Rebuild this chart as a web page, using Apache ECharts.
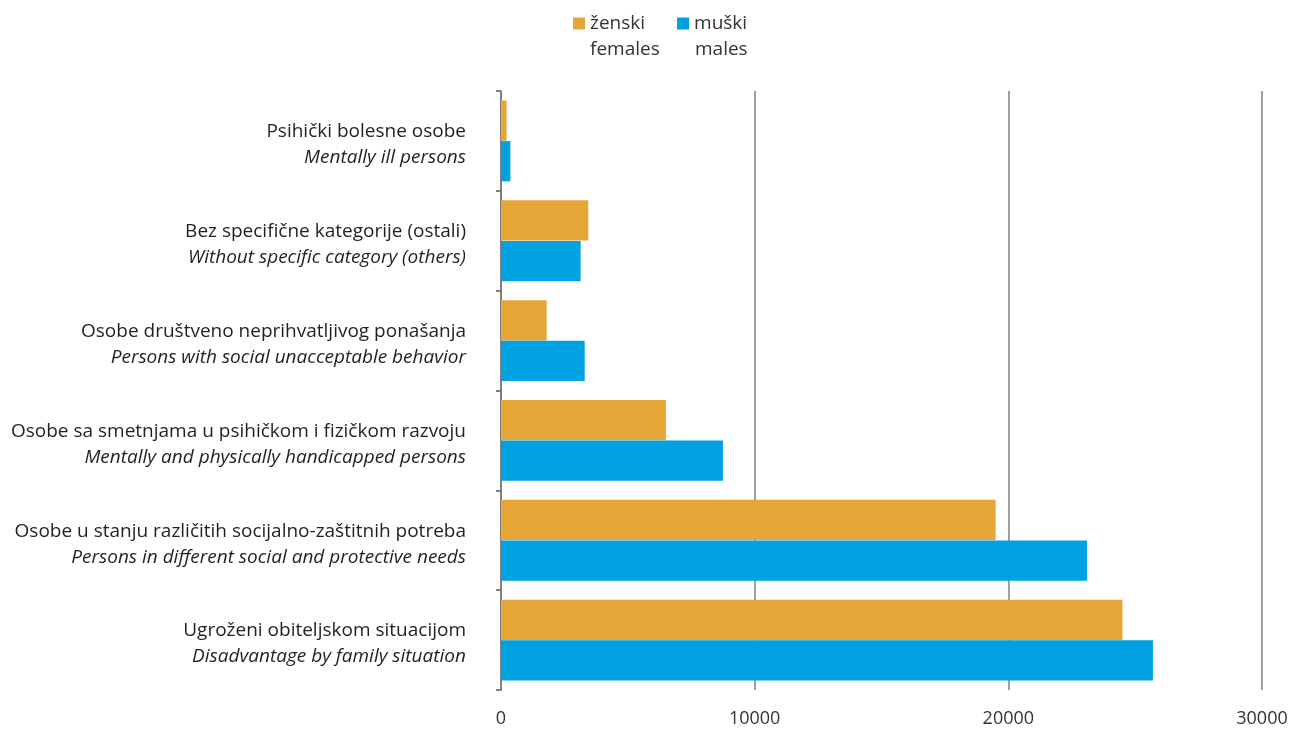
<!DOCTYPE html>
<html><head><meta charset="utf-8">
<script src="https://cdn.jsdelivr.net/npm/echarts@6/dist/echarts.min.js"></script>
<style>html,body{margin:0;padding:0;background:#fff}#c{width:1291px;height:729px}</style>
</head><body><div id="c"></div>
<script>
const categoriesLocal = ["Psihički bolesne osobe","Bez specifične kategorije (ostali)","Osobe društveno neprihvatljivog ponašanja","Osobe sa smetnjama u psihičkom i fizičkom razvoju","Osobe u stanju različitih socijalno-zaštitnih potreba","Ugroženi obiteljskom situacijom"];
const categoriesEnglish = ["Mentally ill persons","Without specific category (others)","Persons with social unacceptable behavior","Mentally and physically handicapped persons","Persons in different social and protective needs","Disadvantage by family situation"];
const females = [220, 3440, 1800, 6500, 19500, 24500];
const males = [370, 3140, 3300, 8750, 23100, 25700];
const xTicks = [0, 10000, 20000, 30000];
const seriesLocal = ["ženski", "muški"];
const seriesEnglish = ["females", "males"];

const font = "'Open Sans', 'Noto Sans', sans-serif";
const chart = echarts.init(document.getElementById('c'), null, {renderer:'canvas'});
chart.setOption({
  animation:false,
  textStyle:{fontFamily:font},
  color:['#E6A537','#00A1E1'],
  legend:{
    top:14, left:573, itemWidth:12, itemHeight:12, itemGap:32, padding:0,
    icon:'rect',
    data:seriesLocal,
    textStyle:{fontSize:19, color:'#333', fontFamily:font}
  },
  graphic:[
    {type:'text', left:590, top:40, style:{text:seriesEnglish[0], font:"19px 'Open Sans'", fill:'#333'}},
    {type:'text', left:695, top:40, style:{text:seriesEnglish[1], font:"19px 'Open Sans'", fill:'#333'}}
  ],
  grid:{left:501, right:29, top:91, bottom:39, containLabel:false},
  xAxis:{
    type:'value', min:xTicks[0], max:xTicks[xTicks.length-1], interval:10000,
    axisLine:{show:false},
    axisTick:{show:false},
    splitLine:{show:true, lineStyle:{color:'#808080', width:1.5}},
    axisLabel:{fontSize:18, color:'#333', margin:20, fontFamily:font, formatter:v=>String(v)}
  },
  yAxis:{
    type:'category', inverse:true,
    data:categoriesLocal.map((c,i)=>c+'\n'+categoriesEnglish[i]),
    axisLine:{show:true, lineStyle:{color:'#808080', width:2}},
    axisTick:{show:true, length:5, lineStyle:{color:'#808080', width:2}},
    axisLabel:{
      margin:35, align:'right', padding:[8,0,0,0],
      formatter:function(v){const p=v.split('\n');return '{a|'+p[0]+'}\n{b|'+p[1]+'}';},
      rich:{
        a:{fontSize:19, color:'#231f20', lineHeight:26, fontFamily:font, align:'right'},
        b:{fontSize:19, color:'#231f20', lineHeight:26, fontStyle:'italic', fontFamily:font, align:'right'}
      }
    }
  },
  series:[
    {name:seriesLocal[0], type:'bar', data:females, barGap:'1%', barCategoryGap:'19%'},
    {name:seriesLocal[1], type:'bar', data:males, barGap:'1%', barCategoryGap:'19%'}
  ]
});
</script></body></html>
